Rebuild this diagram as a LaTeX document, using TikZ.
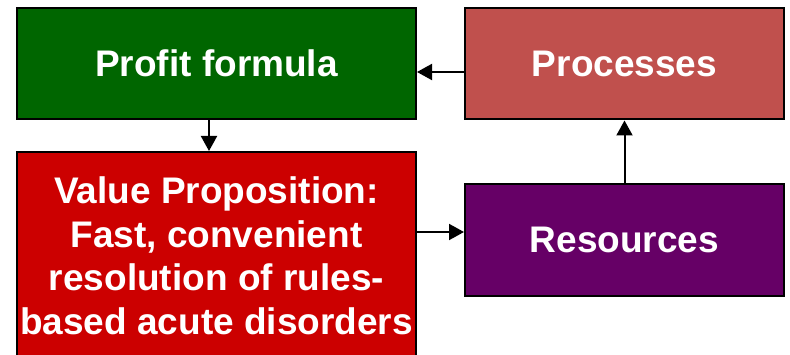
\documentclass[tikz,border=0pt]{standalone}
\usepackage{fontspec}
\setmainfont{Liberation Sans}
\usetikzlibrary{arrows.meta}
\definecolor{profgreen}{RGB}{0,102,0}
\definecolor{procred}{RGB}{192,80,77}
\definecolor{valred}{RGB}{204,0,0}
\definecolor{respurple}{RGB}{102,0,102}
\tikzset{
  box/.style={draw=black, line width=2pt, rectangle, inner sep=0pt,
    text=white, font=\bfseries\fontsize{37}{44}\selectfont, align=center},
  arr/.style={line width=2pt, -{Triangle[length=15pt,width=16pt]}},
  lbl/.style={text=white, font=\bfseries\fontsize{37}{44}\selectfont, align=center, inner sep=0pt}
}
\begin{document}
\begin{tikzpicture}[x=1pt,y=-1pt]
\useasboundingbox (0,0) rectangle (790,355);
\node[box, fill=profgreen, minimum width=399pt, minimum height=111.5pt] (prof) at (216.5,63.75) {Profit formula};
\node[box, fill=procred, minimum width=319pt, minimum height=111.5pt] (proc) at (624.5,63.75) {Processes};
\node[box, fill=valred, minimum width=399pt, minimum height=260pt] (val) at (216.5,282) {};
\node[box, fill=respurple, minimum width=319pt, minimum height=112pt] (res) at (624.5,240) {Resources};
\node[lbl, anchor=base] (valtext) at (216.5,335) {Value Proposition:\\Fast, convenient\\resolution of rules-\\based acute disorders};
\path ([yshift=-8.25pt]proc.west) coordinate (p1);
\draw[arr] (p1) -- (p1 -| prof.east);
\path ([xshift=-7.5pt]prof.south) coordinate (p2);
\draw[arr] (p2) -- (p2 |- val.north);
\path ([yshift=8pt]res.west) coordinate (p3);
\draw[arr] (p3 -| val.east) -- (p3);
\draw[arr] (res.north) -- (proc.south);
\end{tikzpicture}
\end{document}
